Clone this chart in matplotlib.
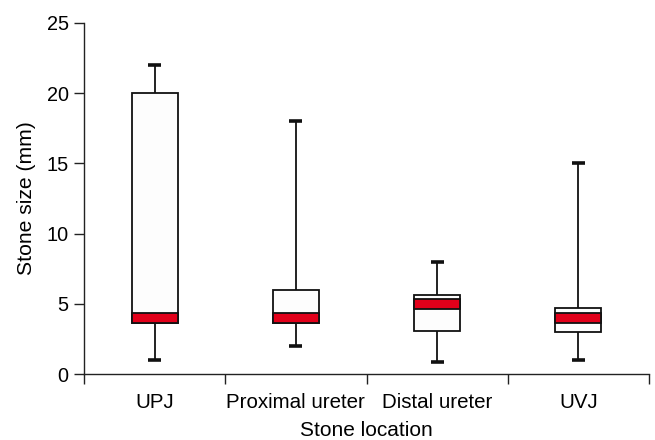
import matplotlib
matplotlib.use("Agg")
import matplotlib.pyplot as plt
import numpy as np

plt.rcParams['font.family'] = ['Liberation Sans', 'DejaVu Sans']

categories = ["UPJ", "Proximal ureter", "Distal ureter", "UVJ"]
whisker_low = [1.0, 2.0, 0.85, 1.0]
box_low = [3.65, 3.61, 3.06, 3.0]
band_low = [3.65, 3.61, 4.65, 3.61]
band_high = [4.32, 4.37, 5.32, 4.37]
box_high = [20.0, 6.0, 5.63, 4.68]
whisker_high = [22.0, 18.0, 8.0, 15.0]

fig = plt.figure(figsize=(6.55, 4.40), dpi=100)
ax = fig.add_axes([84/655, 1-374/440, (649-84)/655, (374-23)/440])

x = np.arange(1, len(categories) + 1)
bw = 0.326
cw = 0.092
lw = 1.3

bl = np.array(box_low); bh = np.array(box_high)
ax.bar(x, bh - bl, bottom=bl, width=bw, color="#fdfdfd", edgecolor="#111111", linewidth=lw, zorder=2)
rl = np.array(band_low); rh = np.array(band_high)
ax.bar(x, rh - rl, bottom=rl, width=bw, color="#e2001a", edgecolor="#111111", linewidth=lw, zorder=3)
ax.vlines(x, bh, whisker_high, color="#111111", linewidth=lw, zorder=1)
ax.vlines(x, whisker_low, bl, color="#111111", linewidth=lw, zorder=1)
ax.hlines(whisker_high, x - cw/2, x + cw/2, color="#111111", linewidth=2.6, zorder=2)
ax.hlines(whisker_low, x - cw/2, x + cw/2, color="#111111", linewidth=2.6, zorder=2)

ax.set_xlim(0.5, len(categories) + 0.5)
ax.set_ylim(0, 25)
ax.set_yticks([0, 5, 10, 15, 20, 25])
ax.set_xticks(np.arange(0.5, len(categories) + 1, 1.0))
ax.set_xticklabels([])
ax.set_xticks(x, minor=True)
ax.set_xticklabels(categories, minor=True)
ax.tick_params(axis='x', which='minor', length=0, pad=13.5, labelsize=14.8)
ax.tick_params(axis='x', which='major', length=7, width=1, direction='out', color="#222222")
ax.tick_params(axis='y', length=7, width=1, direction='out', pad=4, labelsize=14.3, color="#222222")

for s in ["top", "right"]:
    ax.spines[s].set_visible(False)
for s in ["left", "bottom"]:
    ax.spines[s].set_color("#222222")
    ax.spines[s].set_linewidth(1.0)

ax.set_xlabel("Stone location", fontsize=15)
ax.set_ylabel("Stone size (mm)", fontsize=15.2)
ax.xaxis.set_label_coords(0.5, -0.135)
ax.yaxis.set_label_coords(-0.085, 0.5)

fig.savefig("out.png", dpi=100)
